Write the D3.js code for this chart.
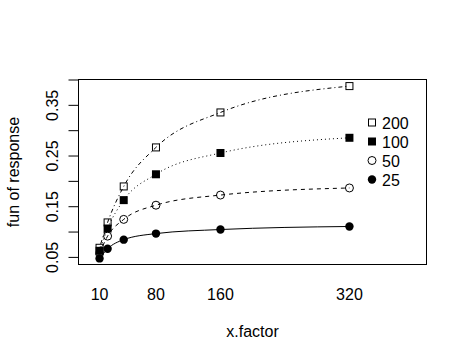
<!DOCTYPE html>
<html>
<head>
<meta charset="utf-8">
<script src="https://cdn.jsdelivr.net/npm/d3@7"></script>
<style>
  body { margin: 0; background: #fff; }
  text { font-family: "Liberation Sans", Arial, sans-serif; font-size: 16px; fill: #000; }
</style>
</head>
<body>
<svg id="chart" width="467" height="363"></svg>
<script>
// data
let xLevels = [10, 20, 40, 80, 160, 320];
let xTickLabels = [10, 80, 160, 320];
let yTicks = [0.05, 0.10, 0.15, 0.20, 0.25, 0.30, 0.35, 0.40];
let yTickLabels = [0.05, 0.15, 0.25, 0.35];
let traceNames = ['200', '100', '50', '25'];
let s200 = [0.068, 0.118, 0.189, 0.266, 0.335, 0.387];
let s100 = [0.062, 0.106, 0.162, 0.213, 0.255, 0.285];
let s50  = [0.057, 0.091, 0.124, 0.152, 0.172, 0.186];
let s25  = [0.047, 0.066, 0.084, 0.096, 0.104, 0.110];

let series = [s200, s100, s50, s25];
// line types like R lty 4,3,2,1 and pch 0,15,1,16
let dashes = ['1,3,4,3', '1,3', '4,4', null];
let shapes = ['sq', 'sqf', 'ci', 'cif'];

let svg = d3.select('#chart');
let mLeft = 78.5, mRight = 426.5, mTop = 79.5, mBottom = 264.5;

let x = d3.scaleLinear().domain([-16.1, 415.6]).range([mLeft, mRight]);
let y = d3.scaleLinear().domain([0.035, 0.40]).range([mBottom, mTop]);

// box
svg.append('rect')
    .attr('x', mLeft).attr('y', mTop)
    .attr('width', mRight - mLeft).attr('height', mBottom - mTop)
    .attr('fill', 'none').attr('stroke', '#000').attr('stroke-width', 1);

// y axis
let yAxis = d3.axisLeft(y)
    .tickValues(yTicks)
    .tickSizeInner(10)
    .tickSizeOuter(0)
    .tickFormat(function (d) {
        return yTickLabels.some(v => Math.abs(v - d) < 1e-9) ? d3.format('.2f')(d) : '';
    });
let gy = svg.append('g')
    .attr('transform', `translate(${mLeft},0)`)
    .call(yAxis);
gy.select('.domain').attr('d', `M0,${y(0.05)}V${y(0.40)}`).attr('stroke', '#000');
gy.selectAll('.tick line').attr('stroke', '#000');
gy.selectAll('.tick text')
    .attr('x', null).attr('dy', null)
    .attr('transform', 'translate(-21,0) rotate(-90)')
    .attr('text-anchor', 'middle')
    .style('font-size', '16px')
    .style('font-family', '"Liberation Sans", Arial, sans-serif');

// x tick labels (no tick marks)
svg.append('g').selectAll('text')
    .data(xTickLabels)
    .enter().append('text')
    .attr('x', d => x(d))
    .attr('y', 300)
    .attr('text-anchor', 'middle')
    .text(d => d);

// axis titles
svg.append('text')
    .attr('x', (mLeft + mRight) / 2).attr('y', 337)
    .attr('text-anchor', 'middle')
    .text('x.factor');
svg.append('text')
    .attr('transform', `translate(19,${(mTop + mBottom) / 2}) rotate(-90)`)
    .attr('text-anchor', 'middle')
    .text('fun of  response');

// lines
let line = d3.line()
    .x((d, i) => x(xLevels[i]))
    .y(d => y(d))
    .curve(d3.curveMonotoneX);

svg.append('g').selectAll('path')
    .data(series)
    .enter().append('path')
    .attr('d', d => line(d))
    .attr('fill', 'none')
    .attr('stroke', '#000')
    .attr('stroke-width', 1)
    .attr('stroke-dasharray', (d, i) => dashes[i]);

function drawSymbol(g, shape, cx, cy) {
    if (shape === 'sq') {
        g.append('rect').attr('x', cx - 3.5).attr('y', cy - 3.5).attr('width', 7).attr('height', 7)
            .attr('fill', 'none').attr('stroke', '#000');
    } else if (shape === 'sqf') {
        g.append('rect').attr('x', cx - 4).attr('y', cy - 4).attr('width', 8).attr('height', 8)
            .attr('fill', '#000');
    } else if (shape === 'ci') {
        g.append('circle').attr('cx', cx).attr('cy', cy).attr('r', 4)
            .attr('fill', 'none').attr('stroke', '#000');
    } else {
        g.append('circle').attr('cx', cx).attr('cy', cy).attr('r', 4.2)
            .attr('fill', '#000');
    }
}

// points
let gp = svg.append('g');
series.forEach(function (s, k) {
    s.forEach(function (v, i) {
        drawSymbol(gp, shapes[k], x(xLevels[i]), y(v));
    });
});

// legend
let gl = svg.append('g');
traceNames.forEach(function (name, k) {
    let ly = 122.5 + k * 19;
    drawSymbol(gl, shapes[k], 372, ly);
    gl.append('text')
        .attr('x', 382).attr('y', ly + 6)
        .text(name);
});
</script>
</body>
</html>
